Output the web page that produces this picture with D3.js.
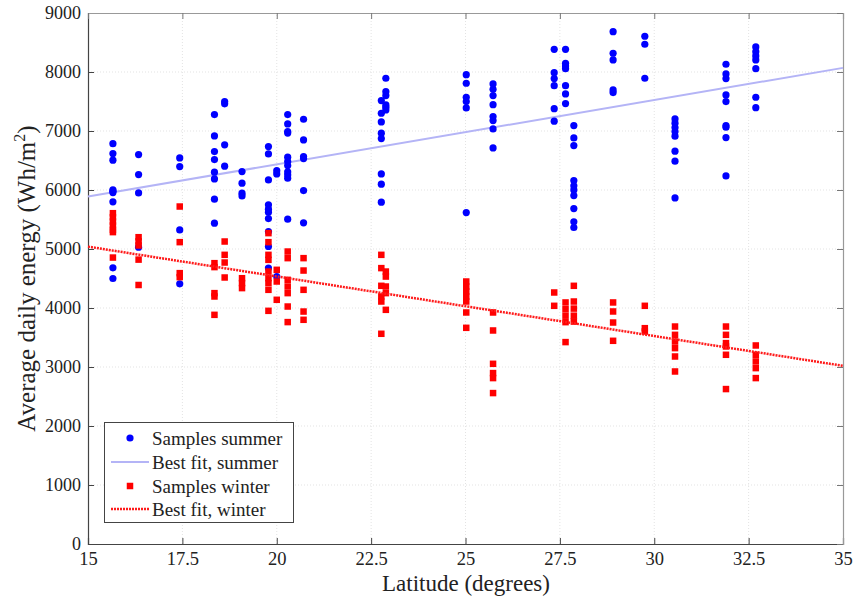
<!DOCTYPE html>
<html>
<head>
<meta charset="utf-8">
<script src="https://cdn.jsdelivr.net/npm/d3@7"></script>
<style>
  body { margin: 0; background: #fff; }
  svg text { font-family: "Liberation Serif", "Times New Roman", serif; fill: #222; }
</style>
</head>
<body>
<div id="chart"></div>
<script>
// latitude columns (degrees)
const latitudes = [15.66, 16.34, 17.43, 18.35, 18.62, 19.08, 19.78, 20.0, 20.29, 20.71,
  22.77, 22.89, 25.02, 25.73, 27.35, 27.65, 27.87, 28.91, 29.75, 30.55, 31.9, 32.69];

// summer samples per latitude column (Wh/m2)
const summerValues = [
  [6786, 6617, 6505, 6002, 5980, 5956, 5799, 4681, 4500],
  [6600, 6261, 5951, 5031],
  [6544, 6397, 5324, 4410],
  [7278, 6917, 6651, 6516, 6302, 6188, 5845, 5438],
  [7500, 7460, 6765, 6404],
  [6312, 6116, 5946, 5900],
  [6736, 6612, 6171, 5748, 5675, 5624, 5516, 5296, 5042, 4676],
  [6327, 6273, 4533],
  [7278, 7120, 6990, 6965, 6556, 6482, 6414, 6307, 6256, 6200, 5506],
  [7199, 6849, 6566, 6532, 5990, 5444],
  [7515, 7301, 7154, 6963, 6871, 6273, 6099, 5794],
  [7894, 7667, 7600, 7442, 7403, 7357],
  [7955, 7809, 7572, 7498, 7391, 5617],
  [7798, 7708, 7600, 7447, 7244, 7176, 7035, 6713],
  [8385, 7989, 7888, 7769, 7379, 7166],
  [8385, 8148, 8103, 8057, 7769, 7628, 7464],
  [7092, 6883, 6753, 6160, 6070, 6002, 5906, 5686, 5460, 5364],
  [8684, 8318, 8204, 7696, 7651],
  [8606, 8470, 7894],
  [7205, 7132, 7058, 6990, 6912, 6658, 6488, 5866],
  [8131, 7967, 7888, 7611, 7498, 7092, 7064, 6888, 6239],
  [8425, 8345, 8272, 8204, 8057, 7572, 7396]
];

// winter samples per latitude column (Wh/m2)
const winterValues = [
  [5607, 5540, 5466, 5398, 5325, 5286, 4855],
  [5200, 5130, 5060, 4820, 4390],
  [5720, 5116, 4591, 4523],
  [4760, 4693, 4252, 4195, 3884],
  [5127, 4901, 4771, 4517],
  [4505, 4422, 4337],
  [5269, 5116, 4901, 4816, 4618, 4506, 4422, 4308, 3952],
  [4647, 4449, 4139],
  [4957, 4845, 4477, 4364, 4252, 4025, 3761],
  [4845, 4635, 4308, 3940, 3800],
  [4901, 4676, 4376, 4195, 4110, 3563],
  [4618, 4533, 4364, 4252, 3969],
  [4449, 4364, 4280, 4195, 4110, 3924, 3664],
  [3924, 3619, 3054, 2897, 2812, 2558],
  [4263, 4037],
  [4094, 3980, 3870, 3760, 3422],
  [4376, 4110, 3990, 3870, 3770],
  [4094, 3941, 3754, 3444],
  [4037, 3658, 3602],
  [3686, 3545, 3432, 3320, 3178, 2924],
  [3686, 3545, 3405, 3348, 3207, 2626],
  [3365, 3207, 3094, 2981, 2812]
];

// best fit line endpoints
const fitLat = [15, 35];
const summerFit = [5890, 8070];
const winterFit = [5040, 3020];

const xTicks = [15, 17.5, 20, 22.5, 25, 27.5, 30, 32.5, 35];
const yTicks = [0, 1000, 2000, 3000, 4000, 5000, 6000, 7000, 8000, 9000];

const legendLabels = ['Samples summer', 'Best fit, summer', 'Samples winter', 'Best fit, winter'];

const width = 853, height = 600;
const margin = { top: 13, right: 10, bottom: 56, left: 88 };
const serif = '"Liberation Serif", "Times New Roman", serif';

const svg = d3.select('#chart').append('svg')
  .attr('width', width).attr('height', height);

const x = d3.scaleLinear().domain([15, 35]).range([margin.left, width - margin.right]);
const y = d3.scaleLinear().domain([0, 9000]).range([height - margin.bottom, margin.top]);

// grid
const grid = svg.append('g');
grid.selectAll('line.gx').data(xTicks.slice(1, -1)).join('line')
  .attr('x1', d => x(d)).attr('x2', d => x(d))
  .attr('y1', y(0)).attr('y2', y(9000))
  .attr('stroke', '#e3e3e3').attr('stroke-dasharray', '1,2');
grid.selectAll('line.gy').data(yTicks.slice(1, -1)).join('line')
  .attr('y1', d => y(d)).attr('y2', d => y(d))
  .attr('x1', x(15)).attr('x2', x(35))
  .attr('stroke', '#e3e3e3').attr('stroke-dasharray', '1,2');

// axes (inward ticks, MATLAB style)
const axisColor = '#444';
svg.append('g')
  .attr('transform', `translate(0,${y(0)})`)
  .call(d3.axisBottom(x).tickValues(xTicks).tickSize(-6).tickPadding(8).tickFormat(d3.format('')))
  .attr('font-family', serif)
  .call(g => g.select('.domain').attr('stroke', axisColor).attr('stroke-width', 1.2))
  .call(g => g.selectAll('.tick line').attr('stroke', axisColor))
  .call(g => g.selectAll('text').attr('font-size', 18.5).style('font-family', serif).attr('fill', '#222'));
svg.append('g')
  .attr('transform', `translate(${x(15)},0)`)
  .call(d3.axisLeft(y).tickValues(yTicks).tickSize(-6).tickPadding(7).tickFormat(d3.format('')))
  .attr('font-family', serif)
  .call(g => g.select('.domain').attr('stroke', axisColor).attr('stroke-width', 1.2))
  .call(g => g.selectAll('.tick line').attr('stroke', axisColor))
  .call(g => g.selectAll('text').attr('font-size', 18).style('font-family', serif).attr('fill', '#222'));
svg.append('g')
  .attr('transform', `translate(0,${y(9000)})`)
  .call(d3.axisTop(x).tickValues(xTicks).tickSize(-6).tickFormat(''))
  .call(g => g.select('.domain').attr('stroke', '#999').attr('stroke-width', 1.2))
  .call(g => g.selectAll('.tick line').attr('stroke', '#777'));
svg.append('g')
  .attr('transform', `translate(${x(35)},0)`)
  .call(d3.axisRight(y).tickValues(yTicks).tickSize(-6).tickFormat(''))
  .call(g => g.select('.domain').attr('stroke', '#999').attr('stroke-width', 1.2))
  .call(g => g.selectAll('.tick line').attr('stroke', '#777'));

// flatten samples
const summerPts = latitudes.flatMap((lat, i) => summerValues[i].map(v => ({ lat, v })));
const winterPts = latitudes.flatMap((lat, i) => winterValues[i].map(v => ({ lat, v })));

const line = d3.line().x(d => x(d[0])).y(d => y(d[1]));

// summer fit
svg.append('path')
  .datum(fitLat.map((l, i) => [l, summerFit[i]]))
  .attr('d', line).attr('fill', 'none')
  .attr('stroke', '#b4b4f6').attr('stroke-width', 2);

// summer samples
svg.append('g').selectAll('circle').data(summerPts).join('circle')
  .attr('cx', d => x(d.lat)).attr('cy', d => y(d.v))
  .attr('r', 3.6).attr('fill', '#0000ff');

// winter samples
const s = 6.5;
svg.append('g').selectAll('rect').data(winterPts).join('rect')
  .attr('x', d => x(d.lat) - s / 2).attr('y', d => y(d.v) - s / 2)
  .attr('width', s).attr('height', s).attr('fill', '#ff0000');

// winter fit
svg.append('path')
  .datum(fitLat.map((l, i) => [l, winterFit[i]]))
  .attr('d', line).attr('fill', 'none')
  .attr('stroke', '#ff1a1a').attr('stroke-width', 2.5).attr('stroke-dasharray', '2,1');

// axis labels
svg.append('text')
  .attr('x', 466).attr('y', 591)
  .attr('text-anchor', 'middle').attr('font-size', 23)
  .text('Latitude (degrees)');
const yl = svg.append('text')
  .attr('transform', `translate(35,${(y(0) + y(9000)) / 2}) rotate(-90)`)
  .attr('text-anchor', 'middle').attr('font-size', 25);
yl.append('tspan').text('Average daily energy (Wh/m');
yl.append('tspan').attr('font-size', 16).attr('dy', -10).text('2');
yl.append('tspan').attr('dy', 10).text(')');

// legend
const lg = svg.append('g');
lg.append('rect').attr('x', 104.5).attr('y', 422.5).attr('width', 189).attr('height', 100)
  .attr('fill', '#fff').attr('stroke', '#444').attr('stroke-width', 1);
const rowY = [438, 462, 486, 509];
lg.selectAll('text').data(legendLabels).join('text')
  .attr('x', 152).attr('y', (d, i) => rowY[i] + 6.5)
  .attr('font-size', 19).text(d => d);
lg.append('circle').attr('cx', 130).attr('cy', rowY[0]).attr('r', 3.6).attr('fill', '#0000ff');
lg.append('line').attr('x1', 111).attr('x2', 149).attr('y1', rowY[1]).attr('y2', rowY[1])
  .attr('stroke', '#b4b4f6').attr('stroke-width', 2);
lg.append('rect').attr('x', 130 - s / 2).attr('y', rowY[2] - s / 2).attr('width', s).attr('height', s)
  .attr('fill', '#ff0000');
lg.append('line').attr('x1', 111).attr('x2', 149).attr('y1', rowY[3]).attr('y2', rowY[3])
  .attr('stroke', '#ff1a1a').attr('stroke-width', 2.5).attr('stroke-dasharray', '2,1');
</script>
</body>
</html>
